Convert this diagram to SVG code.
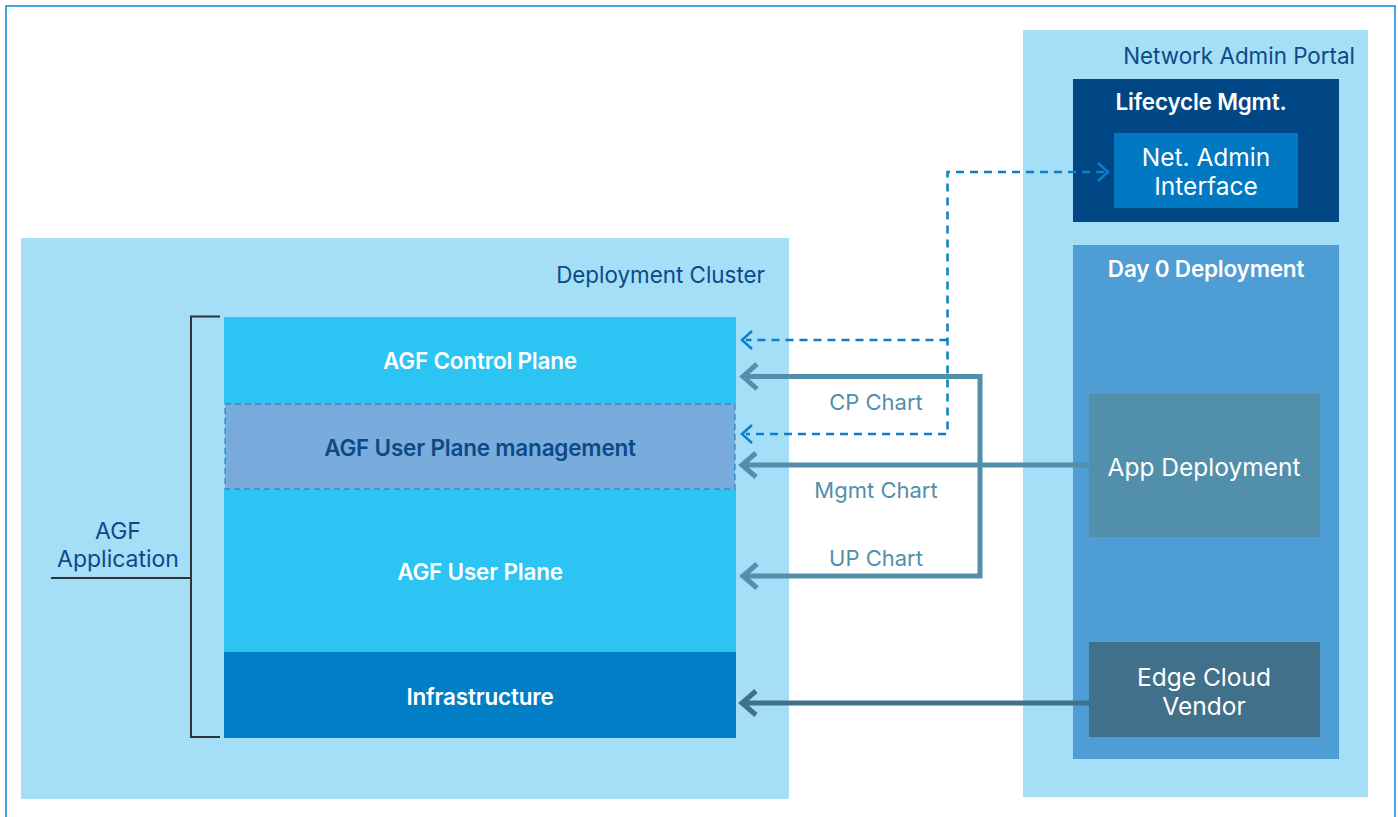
<svg xmlns="http://www.w3.org/2000/svg" width="1398" height="817" viewBox="0 0 1398 817">
  <style>
    text { font-family: Inter, "Noto Sans", "Liberation Sans", sans-serif; }
    .title { font-size: 22.4px; fill: #0b4a86; }
    .bold { font-size: 22.5px; font-weight: 600; fill: #ffffff; text-anchor: middle; letter-spacing: -0.2px; }
    .plain { font-size: 24.5px; fill: #ffffff; text-anchor: middle; }
    .chart { font-size: 22px; fill: #528fab; text-anchor: middle; }
    .solid { fill: none; stroke: #528fab; stroke-width: 5; }
    .dash { fill: none; stroke: #0a7fcc; stroke-width: 2.5; stroke-dasharray: 8 6; }
    .head-dash { fill: none; stroke: #0a7fcc; stroke-width: 2.5; }
  </style>

  <!-- page frame -->
  <rect x="6" y="6" width="1389" height="830" fill="#ffffff" stroke="#0a86d8" stroke-width="1.5"/>

  <!-- deployment cluster -->
  <g id="deployment-cluster">
    <rect x="21" y="238" width="768" height="561" fill="#a4def7"/>
    <text class="title" x="765" y="283" text-anchor="end">Deployment Cluster</text>
  </g>

  <!-- network admin portal -->
  <g id="network-admin-portal">
    <rect x="1023" y="30" width="345" height="767" fill="#a4def7"/>
    <text class="title" x="1355" y="64" text-anchor="end">Network Admin Portal</text>
  </g>

  <g id="lifecycle-mgmt">
    <rect x="1073" y="79" width="266" height="143" fill="#024785"/>
    <text class="bold" x="1201" y="110">Lifecycle Mgmt.</text>
  </g>

  <g id="net-admin-interface">
    <rect x="1114" y="133" width="184" height="75" fill="#0079c2"/>
    <text class="plain" x="1206" y="166">Net. Admin</text>
    <text class="plain" x="1206" y="195">Interface</text>
  </g>

  <g id="day0-deployment">
    <rect x="1073" y="245" width="266" height="514" fill="#4e9dd4"/>
    <text class="bold" x="1206" y="277">Day 0 Deployment</text>
  </g>

  <g id="app-deployment">
    <rect x="1089" y="394" width="231" height="143" fill="#528fab"/>
    <text class="plain" x="1204" y="476">App Deployment</text>
  </g>

  <g id="edge-cloud-vendor">
    <rect x="1089" y="642" width="231" height="95" fill="#41708b"/>
    <text class="plain" x="1204" y="686">Edge Cloud</text>
    <text class="plain" x="1204" y="715">Vendor</text>
  </g>

  <!-- AGF stack -->
  <g id="agf-control-plane">
    <rect x="224" y="317" width="512" height="87" fill="#2cc4f3"/>
    <text class="bold" x="480" y="369">AGF Control Plane</text>
  </g>

  <g id="agf-user-plane">
    <rect x="224" y="489" width="512" height="163" fill="#2cc4f3"/>
    <text class="bold" x="480" y="580">AGF User Plane</text>
  </g>

  <g id="agf-user-plane-management">
    <rect x="225" y="404" width="510" height="85" fill="#79acdc" stroke="#0f79c8" stroke-width="1" stroke-dasharray="6 4"/>
    <text class="bold" x="480" y="456" style="fill:#0b4a86">AGF User Plane management</text>
  </g>

  <g id="infrastructure">
    <rect x="224" y="652" width="512" height="86" fill="#007fc6"/>
    <text class="bold" x="480" y="705">Infrastructure</text>
  </g>

  <!-- AGF application bracket -->
  <g id="agf-application">
    <path d="M220 316.5 H191 V737 H220 M191 578 H51" fill="none" stroke="#333333" stroke-width="2"/>
    <text x="118" y="539" style="font-size:23px; fill:#0b4a86" text-anchor="middle">AGF</text>
    <text x="118" y="567" style="font-size:23px; fill:#0b4a86" text-anchor="middle">Application</text>
  </g>

  <!-- connectors -->
  <g id="connectors">
    <!-- helm charts from app deployment -->
    <path class="solid" d="M745 376.5 H980 V576 H745"/>
    <path class="solid" d="M1089 465 H744"/>
    <path class="solid" d="M757 364 L743 376.5 L757 389"/>
    <path class="solid" d="M757 564 L743 576 L757 588"/>
    <path class="solid" d="M756 453 L742 465 L756 477"/>
    <!-- infrastructure from edge cloud vendor -->
    <path class="solid" d="M1089 703 H744" style="stroke:#41708b"/>
    <path class="solid" d="M756 691 L742 703 L756 715" style="stroke:#41708b"/>
    <!-- net admin interface links -->
    <path class="dash" d="M1104 172 H947.5 V434 H746"/>
    <path class="dash" d="M947.5 340 H746"/>
    <path class="head-dash" d="M1098 163 L1108 172 L1098 181"/>
    <path class="head-dash" d="M752 331 L742 340 L752 349"/>
    <path class="head-dash" d="M752 425 L742 434 L752 443"/>
    <text class="chart" x="876" y="410">CP Chart</text>
    <text class="chart" x="876" y="498">Mgmt Chart</text>
    <text class="chart" x="876" y="566">UP Chart</text>
  </g>
</svg>
